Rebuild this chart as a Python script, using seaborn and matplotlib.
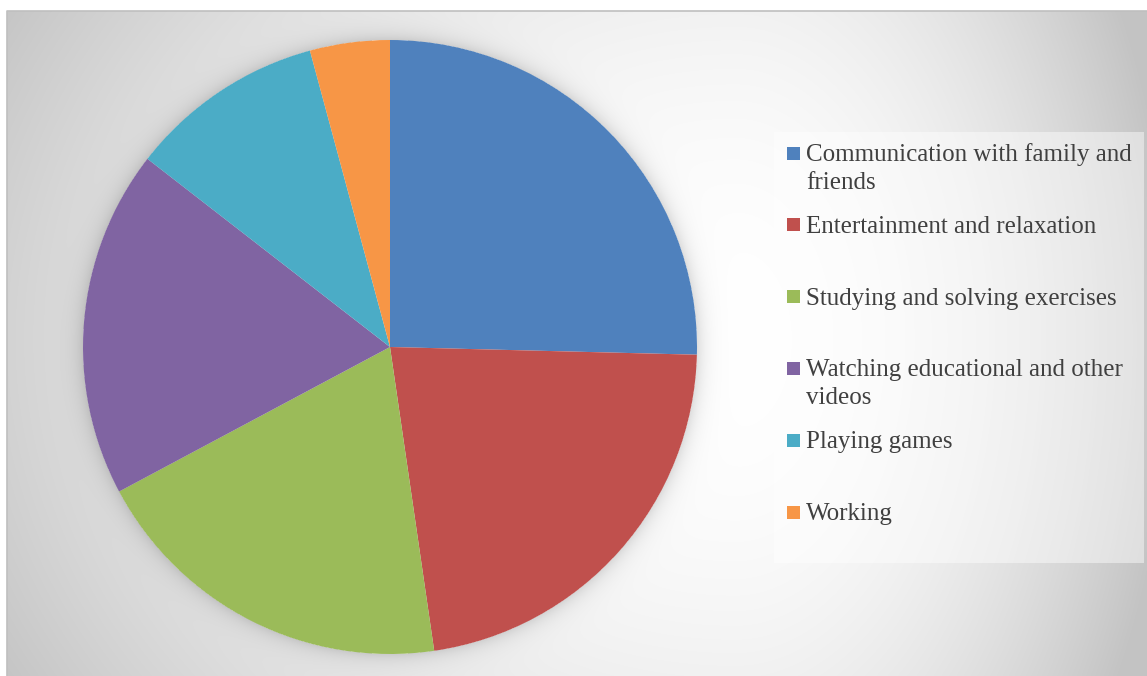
import textwrap
import numpy as np
import matplotlib
matplotlib.use("Agg")
import matplotlib.pyplot as plt
from matplotlib.patches import Rectangle
import seaborn as sns

# Share of time spent on each kind of device use
categories = [
    "Communication with family and friends",
    "Entertainment and relaxation",
    "Studying and solving exercises",
    "Watching educational and other videos",
    "Playing games",
    "Working",
]
shares = [25.4, 22.3, 19.5, 18.3, 10.3, 4.2]
colors = ["#4f81bd", "#c0504d", "#9bbb59", "#8064a2", "#4bacc6", "#f79646"]

sns.set_theme(style="white")
palette = sns.color_palette(colors)

W, H = 1147, 676
fig = plt.figure(figsize=(W / 100, H / 100), dpi=100)
fig.patch.set_facecolor("white")

# --- background: soft radial gradient with a faint halo around the pie ---
x0, y0 = 7, 11                 # top-left corner of the chart area (px)
pie_cx, pie_cy, R = 390, 347, 307
yy, xx = np.mgrid[0:H, 0:W].astype(float) + 0.5
cx, cy = 735, 340
ax_l, ax_r, ay = 850, 440, 700
dx = np.where(xx < cx, (xx - cx) / ax_l, (xx - cx) / ax_r)
dy = (yy - cy) / ay
d = np.clip(np.sqrt(dx ** 2 + dy ** 2), 0, 1)
val = 255 - 60 * d ** 2
r = np.hypot(xx - pie_cx, yy - pie_cy)
halo = np.where(r > R, 0.13 * np.exp(-(r - R) / 9.0), 0)
val = val * (1 - halo)
val = np.where((xx >= x0) & (yy >= y0), val, 255)
bg = np.dstack([val, val, val]) / 255.0

ax_bg = fig.add_axes([0, 0, 1, 1])
ax_bg.imshow(bg, extent=[0, W, H, 0], interpolation="bilinear", zorder=0)
ax_bg.set_xlim(0, W)
ax_bg.set_ylim(H, 0)
ax_bg.axis("off")

# chart-area border
ax_bg.plot([x0, x0, W], [H, y0, y0], color="#bfbfbf", lw=1.2, zorder=1)

# --- legend panel ---
lx0, ly0, lx1, ly1 = 774, 132, 1144, 563
ax_bg.add_patch(Rectangle((lx0, ly0), lx1 - lx0, ly1 - ly0,
                          facecolor="white", alpha=0.45, edgecolor="none", zorder=2))
step = 71.8
first_y = 153
sq = 13
line_h = 28
for i, (label, c) in enumerate(zip(categories, palette)):
    ym = first_y + i * step
    ax_bg.add_patch(Rectangle((787, ym - sq / 2), sq, sq, facecolor=c,
                              edgecolor="none", zorder=3))
    for k, line in enumerate(textwrap.wrap(label, 30)):
        ax_bg.text(806, ym + 8 + k * line_h, line, fontsize=18,
                   family="Liberation Serif", color="#404040",
                   va="baseline", ha="left", zorder=3)

# --- pie ---
ax_pie = fig.add_axes([(pie_cx - R) / W, (H - pie_cy - R) / H, 2 * R / W, 2 * R / H])
ax_pie.pie(shares, colors=palette, startangle=90, counterclock=False,
           radius=1, wedgeprops=dict(linewidth=0))
ax_pie.set_xlim(-1, 1)
ax_pie.set_ylim(-1, 1)
ax_pie.set_aspect("auto")
ax_pie.axis("off")

fig.savefig("out.png", dpi=100)
